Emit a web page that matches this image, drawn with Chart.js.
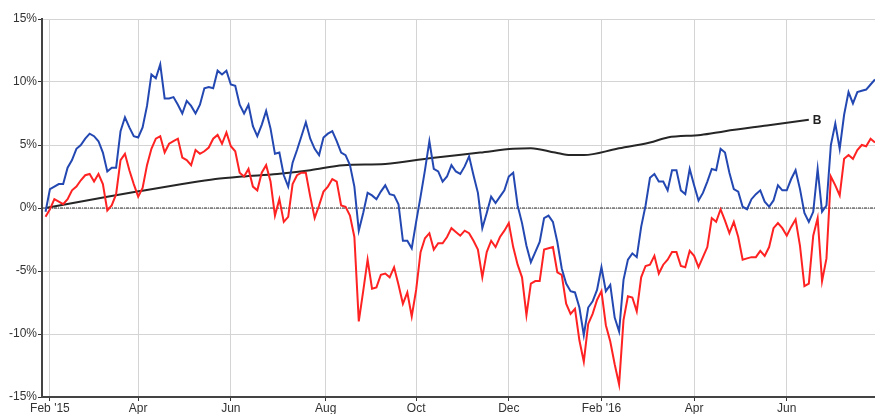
<!DOCTYPE html>
<html><head><meta charset="utf-8">
<script src="https://cdn.jsdelivr.net/npm/chart.js@4"></script>
<style>html,body{margin:0;padding:0;background:#fff;overflow:hidden}</style>
</head><body>
<canvas id="c" width="875" height="414"></canvas>
<script>
// trading-day index of each sample (Feb '15 = 0)
const startDay = -2, stepDays = 2;
const blueValues = [
 -0.3, 1.5, 1.7, 1.9, 1.9, 3.2, 3.8, 4.7, 5.0, 5.5,
 5.9, 5.7, 5.3, 4.4, 2.9, 3.2, 3.2, 6.1, 7.2, 6.4,
 5.7, 5.6, 6.4, 8.1, 10.6, 10.3, 11.4, 8.7, 8.7, 8.8,
 8.2, 7.5, 8.5, 8.1, 7.5, 8.2, 9.5, 9.6, 9.5, 10.9,
 10.6, 10.9, 9.8, 9.7, 8.2, 7.5, 8.2, 6.5, 5.7, 6.6,
 7.7, 6.3, 4.3, 4.4, 2.6, 1.7, 3.6, 4.6, 5.7, 6.8,
 5.5, 4.7, 4.2, 5.6, 5.9, 6.1, 5.3, 4.4, 4.2, 3.4,
 1.7, -1.8, -0.4, 1.2, 1.0, 0.7, 1.3, 1.8, 1.1, 1.0,
 0.3, -2.6, -2.6, -3.2, -1.1, 0.9, 3.0, 5.3, 3.1, 2.9,
 2.1, 2.5, 3.4, 2.9, 2.7, 3.3, 4.1, 2.6, 1.2, -1.6,
 -0.4, 0.9, 0.4, 0.9, 1.4, 2.5, 2.8, 0.2, -1.2, -3.0,
 -4.3, -3.5, -2.7, -0.8, -0.6, -1.1, -2.7, -4.8, -6.0, -6.6,
 -6.7, -7.9, -10.1, -7.9, -7.4, -6.5, -4.7, -6.6, -6.1, -8.7,
 -9.8, -5.7, -4.1, -3.6, -3.9, -1.5, 0.2, 2.4, 2.7, 2.1,
 2.1, 1.4, 3.0, 3.0, 1.4, 1.1, 3.1, 1.8, 0.6, 1.2,
 2.1, 3.1, 3.0, 4.7, 4.4, 2.8, 1.5, 1.3, 0.1, -0.1,
 0.7, 1.1, 1.4, 0.5, 0.1, 0.6, 1.8, 1.4, 1.4, 2.3,
 3.0, 1.5, -0.4, -1.1, -0.3, 3.1, -0.3, 0.2, 5.0, 6.7,
 4.7, 7.4, 9.2, 8.3, 9.2, 9.3, 9.4, 9.8, 10.2
];
const redValues = [
 -0.7, -0.1, 0.7, 0.5, 0.3, 0.7, 1.4, 1.7, 2.2, 2.6,
 2.7, 2.1, 2.7, 1.9, -0.2, 0.2, 1.1, 3.8, 4.3, 3.0,
 1.9, 0.9, 1.6, 3.4, 4.7, 5.5, 5.7, 4.4, 5.1, 5.3,
 5.5, 4.0, 3.8, 3.4, 4.6, 4.3, 4.5, 4.8, 5.5, 5.8,
 5.1, 6.0, 4.9, 4.5, 2.8, 2.5, 3.1, 1.7, 1.4, 2.8,
 3.4, 2.1, -0.6, 0.7, -1.1, -0.7, 1.9, 2.6, 2.8, 2.8,
 0.9, -0.8, 0.2, 1.3, 1.7, 2.3, 2.1, 0.2, 0.1, -0.6,
 -2.3, -9.0, -6.6, -4.1, -6.4, -6.3, -5.3, -5.2, -5.5, -4.7,
 -6.1, -7.6, -6.7, -8.6, -6.5, -3.5, -2.4, -2.0, -3.3, -2.8,
 -2.8, -2.3, -1.6, -1.9, -2.2, -1.8, -2.0, -2.6, -3.3, -5.5,
 -3.5, -2.6, -3.1, -2.3, -1.8, -1.2, -3.1, -4.5, -5.5, -8.5,
 -6.0, -5.8, -5.8, -3.3, -3.2, -3.1, -5.1, -5.3, -7.6, -8.4,
 -8.0, -10.5, -12.2, -9.2, -8.4, -7.3, -6.6, -9.3, -10.6, -12.4,
 -14.0, -8.9, -7.0, -7.1, -8.2, -5.5, -4.6, -4.5, -3.8, -5.2,
 -4.5, -4.1, -3.5, -3.5, -4.6, -4.7, -3.4, -3.8, -4.7, -3.9,
 -3.1, -0.8, -1.1, -0.1, -1.0, -2.0, -1.1, -2.3, -4.1, -4.0,
 -3.9, -3.9, -3.4, -3.8, -3.1, -1.6, -1.2, -1.6, -2.2, -1.5,
 -0.9, -3.0, -6.2, -6.0, -2.2, -0.8, -5.8, -4.0, 2.5, 1.8,
 1.0, 3.9, 4.2, 3.9, 4.6, 5.0, 4.9, 5.5, 5.2
];
const benchDays   = [-2, 26, 41, 60, 75, 87, 103, 118, 133, 152, 172, 195, 210, 218, 229, 236, 242, 257, 272, 280, 295, 306, 325, 344];
const benchValues = [0, 0.9, 1.35, 1.9, 2.3, 2.5, 2.7, 3.0, 3.4, 3.5, 3.95, 4.4, 4.7, 4.75, 4.4, 4.2, 4.2, 4.7, 5.2, 5.6, 5.8, 6.1, 6.55, 7.0];
const benchLabel = 'B';
const monthTickDays   = [0, 40, 82, 125, 166, 208, 250, 292, 334];
const monthTickLabels = ["Feb '15", "Apr", "Jun", "Aug", "Oct", "Dec", "Feb '16", "Apr", "Jun"];
const yTickValues = [-15, -10, -5, 0, 5, 10, 15];
const xMin = -3.6, xMax = 374;

const toPts = vals => vals.map((v, i) => ({x: startDay + i * stepDays, y: v}));
const benchPts = benchDays.map((d, i) => ({x: d, y: benchValues[i]}));

const FONT = 'Liberation Sans, Arial, sans-serif';

const labelPlugin = {
  id: 'benchLabel',
  afterDatasetsDraw(chart) {
    const meta = chart.getDatasetMeta(2);
    const last = meta.data[meta.data.length - 1];
    const ctx = chart.ctx;
    ctx.save();
    ctx.font = 'bold 12px ' + FONT;
    ctx.fillStyle = '#222';
    ctx.textAlign = 'left';
    ctx.textBaseline = 'middle';
    ctx.fillText(benchLabel, last.x + 4, last.y + 1);
    ctx.restore();
  }
};

new Chart(document.getElementById('c'), {
  type: 'line',
  data: {
    datasets: [
      {data: toPts(blueValues), borderColor: '#2448b2', borderWidth: 2, tension: 0},
      {data: toPts(redValues), borderColor: '#ff2222', borderWidth: 2, tension: 0},
      {data: benchPts, borderColor: '#262626', borderWidth: 2, cubicInterpolationMode: 'monotone'},
      {data: [{x: xMin, y: 0}, {x: xMax, y: 0}], borderColor: '#333', borderWidth: 1, borderDash: [3, 1, 1, 1]}
    ]
  },
  options: {
    responsive: false,
    animation: false,
    devicePixelRatio: 1,
    layout: {padding: {top: 19, right: 0, left: 0, bottom: 0}},
    elements: {point: {radius: 0}, line: {fill: false}},
    plugins: {legend: {display: false}, tooltip: {enabled: false}},
    scales: {
      x: {
        type: 'linear', min: xMin, max: xMax,
        afterBuildTicks: s => { s.ticks = monthTickDays.map(v => ({value: v})); },
        afterFit: s => { s.height = 17; },
        ticks: {
          autoSkip: false, maxRotation: 0, padding: 0,
          color: '#333', font: {family: FONT, size: 12},
          callback: v => { const i = monthTickDays.indexOf(v); return i >= 0 ? monthTickLabels[i] : ''; }
        },
        grid: {color: '#d4d4d4', lineWidth: 1, tickColor: '#333', tickLength: 4},
        border: {color: '#444', width: 2}
      },
      y: {
        min: -15, max: 15,
        afterBuildTicks: s => { s.ticks = yTickValues.map(v => ({value: v})); },
        afterFit: s => { s.width = 42; },
        ticks: {
          padding: 1, color: '#333', font: {family: FONT, size: 12},
          callback: v => v + '%'
        },
        grid: {color: '#d4d4d4', lineWidth: 1, tickColor: '#333', tickLength: 4},
        border: {color: '#444', width: 2}
      }
    }
  },
  plugins: [labelPlugin]
});
</script>
</body></html>
